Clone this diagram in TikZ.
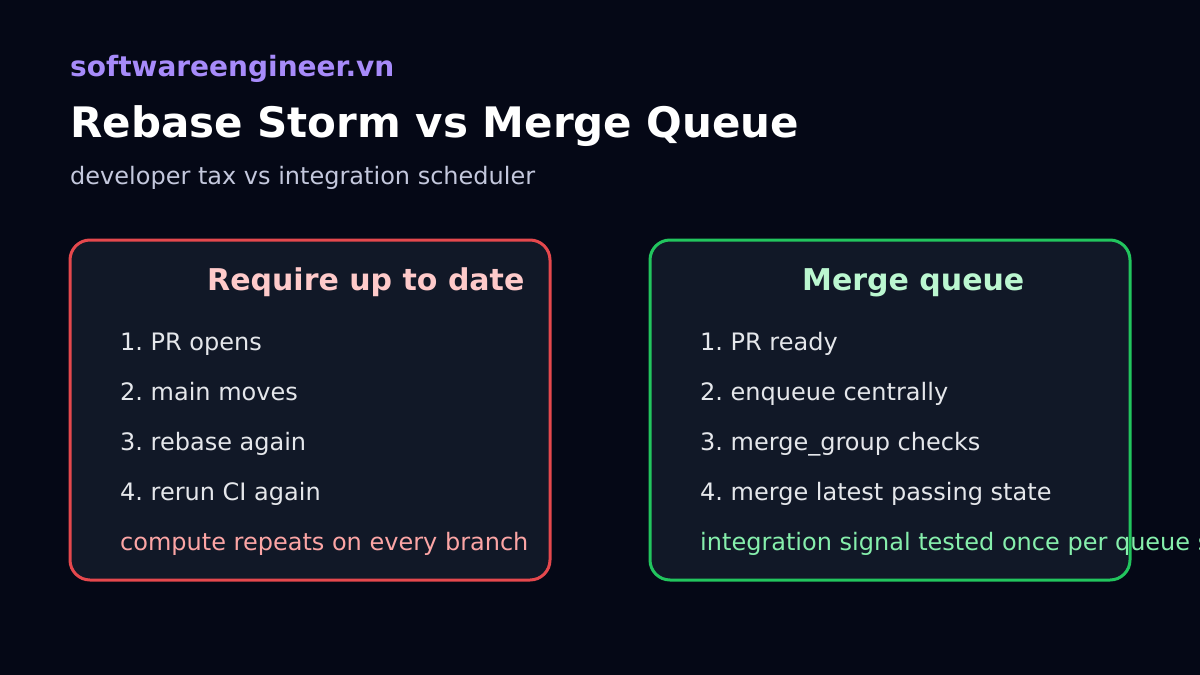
\documentclass[tikz,border=0pt]{standalone}
\usepackage{fontspec}
\setmainfont{DejaVu Sans}
\usepackage{tikz}
\usetikzlibrary{positioning}
\frenchspacing
\definecolor{nightbg}{HTML}{050816}
\definecolor{panelbg}{HTML}{111827}
\definecolor{brand}{HTML}{A78BFA}
\definecolor{subtle}{HTML}{C4C8DD}
\definecolor{itemtxt}{HTML}{E5E7EB}
\definecolor{stormred}{HTML}{E5484D}
\definecolor{stormtitle}{HTML}{FECACA}
\definecolor{stormnote}{HTML}{FCA5A5}
\definecolor{queuegreen}{HTML}{22C55E}
\definecolor{queuetitle}{HTML}{BBF7D0}
\definecolor{queuenote}{HTML}{86EFAC}
\newcommand{\fs}[1]{\fontsize{#1}{#1}\selectfont}
\tikzset{
  panel/.style={rectangle, rounded corners=20pt, draw=#1, line width=3pt, fill=panelbg,
                minimum width=480pt, minimum height=340pt, inner sep=0pt},
  head/.style={anchor=base west, inner sep=0pt, text=#1},
  ptitle/.style={anchor=base west, inner sep=0pt, text=#1, font=\fs{30}\bfseries},
  item/.style={anchor=base west, inner sep=0pt, text=itemtxt, font=\fs{24}},
  note/.style={anchor=base west, inner sep=0pt, text=#1, font=\fs{24}},
}

\begin{document}
\begin{tikzpicture}[x=1pt, y=-1pt]
  \fill[nightbg] (0,0) rectangle (1200,675);
  \useasboundingbox (0,0) rectangle (1200,675);
  % header
  \node[head=brand, font=\fs{28}\bfseries] (brand) at (70,76) {softwareengineer.vn};
  \node[head=white, font=\fs{42}\bfseries] (title) at (70,137) {Rebase Storm vs Merge Queue};
  \node[head=subtle, font=\fs{24}] (sub) at (70,184) {developer tax vs integration scheduler};
  % left panel
  \node[panel=stormred] (storm) at (310,410) {};
  \node[ptitle=stormtitle] (stormT) at (207,290) {Require up to date};
  \node[item] (s1) at (120,350) {1. PR opens};
  \node[item] (s2) at (120,400) {2. main moves};
  \node[item] (s3) at (120,450) {3. rebase again};
  \node[item] (s4) at (120,500) {4. rerun CI again};
  \node[note=stormnote] (sn) at (120,550) {compute repeats on every branch};
  % right panel
  \node[panel=queuegreen] (queue) at (890,410) {};
  \node[ptitle=queuetitle] (queueT) at (802,290) {Merge queue};
  \node[item] (q1) at (700,350) {1. PR ready};
  \node[item] (q2) at (700,400) {2. enqueue centrally};
  \node[item] (q3) at (700,450) {3. merge\_group checks};
  \node[item] (q4) at (700,500) {4. merge latest passing state};
  \node[note=queuenote] (qn) at (700,550) {integration signal tested once per queue slot};
\end{tikzpicture}
\end{document}
